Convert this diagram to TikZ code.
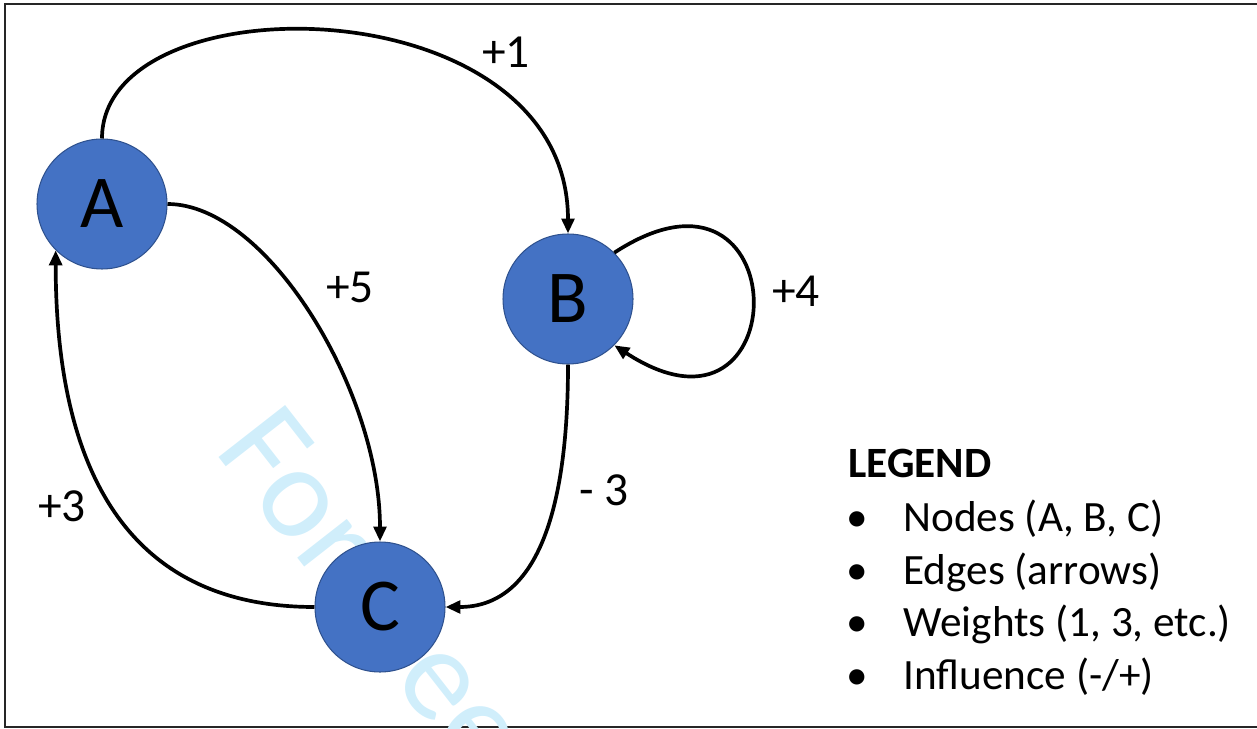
\documentclass[tikz,border=0pt]{standalone}
\usepackage{fontspec}
\setmainfont{Carlito}
\usetikzlibrary{arrows.meta}
\definecolor{nodeblue}{HTML}{4472C4}
\definecolor{nodeedge}{HTML}{2F528F}
\definecolor{wmark}{RGB}{208,238,251}
\tikzset{
  gnode/.style={circle, fill=nodeblue, draw=nodeedge, line width=0.6pt, minimum size=2.6cm, inner sep=0pt, font=\fontsize{42.5}{50}\selectfont},
  edge/.style={line width=2.1pt, -{Triangle[length=8.5pt,width=7.2pt]}},
  wlabel/.style={inner sep=0pt, font=\fontsize{27}{32}\selectfont},
  legend/.style={inner sep=0pt, anchor=base west, font=\fontsize{24.6}{30}\selectfont},
}
\begin{document}
\begin{tikzpicture}[x=0.02cm, y=-0.02cm]
\useasboundingbox (0,0) rectangle (1257,729);
\draw[line width=1.1pt, black!85] (5,4) rectangle (1265,727);
% watermark
\node[anchor=base west, rotate=-52, text=wmark, inner sep=0pt, font=\fontsize{75}{80}\selectfont] (wm) at (213,450) {Foresee};
% nodes
\node[gnode] (A) at (102,204) {A};
\node[gnode] (B) at (568,299) {B};
\node[gnode] (C) at (380,607) {C};
% edges
\draw[edge] (A.north) .. controls +(0,-160) and +(0,-250) .. (B.north);
\draw[edge] (A.east) .. controls +(100,0) and +(0,-150) .. (C.north);
\draw[edge] (C.west) .. controls +(-200,0) and +(0,200) .. (A.225);
\draw[edge] (B.south) .. controls +(0,150) and +(90,0) .. (C.east);
\draw[edge] (B.45) .. controls +(184,-120) and +(184,120) .. (B.-45);
% labels
\node[wlabel] (l1) at (506,52) {+1};
\node[wlabel] (l5) at (350,287) {+5};
\node[wlabel] (l4) at (796,291) {+4};
\node[wlabel] (l3m) at (604,490) {- 3};
\node[wlabel] (l3) at (62,506) {+3};
% legend
\node[legend, font=\fontsize{24.6}{30}\selectfont\bfseries] (lg) at (848,477) {LEGEND};
\node[legend] (b1) at (846,531) {\textbullet};
\node[legend] (t1) at (903,531) {Nodes (A, B, C)};
\node[legend] (b2) at (846,584) {\textbullet};
\node[legend] (t2) at (903,584) {Edges (arrows)};
\node[legend] (b3) at (846,636) {\textbullet};
\node[legend] (t3) at (903,636) {Weights (1, 3, etc.)};
\node[legend] (b4) at (846,689) {\textbullet};
\node[legend] (t4) at (903,689) {Influence (-/+)};
\end{tikzpicture}
\end{document}
